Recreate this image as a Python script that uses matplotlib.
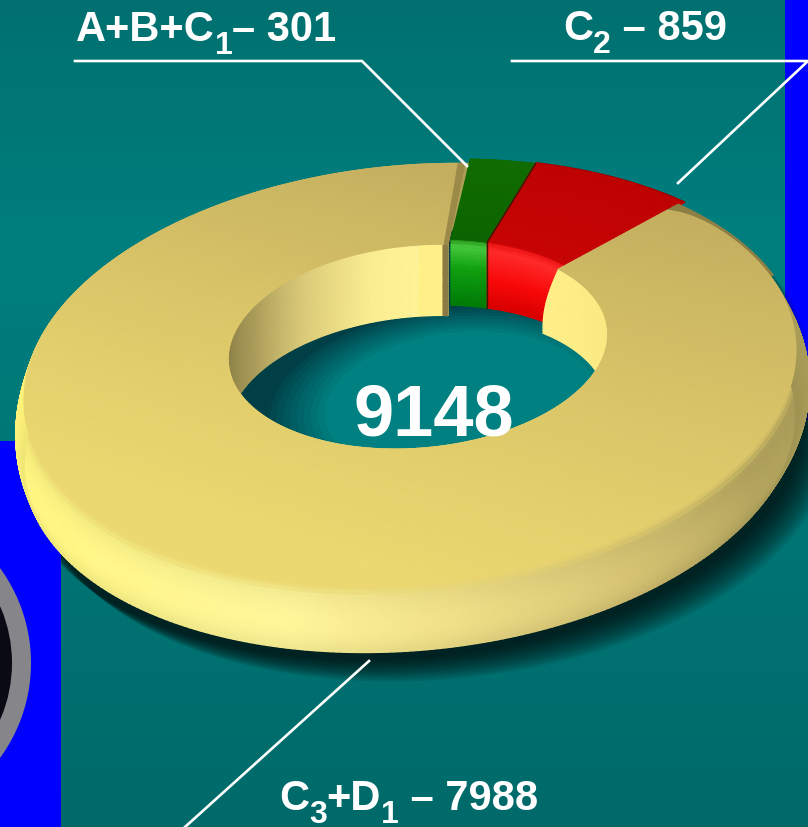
import numpy as np
import matplotlib
matplotlib.use("Agg")
import matplotlib.pyplot as plt
from matplotlib.collections import PolyCollection
from matplotlib.colors import to_rgb
from matplotlib.patches import Circle, Rectangle

plt.rcParams["font.family"] = ["Liberation Sans", "DejaVu Sans"]

# reserves by category
values = [301, 859, 7988]
labels = [
    [("A+B+C", 0), ("1", 1), ("– 301", 0)],
    [("C", 0), ("2", 1), (" – 859", 0)],
    [("C", 0), ("3", 1), ("+D", 0), ("1", 1), (" – 7988", 0)],
]
total_label = "9148"
label_x = [76, 563, 279]
label_y = [30, 29, 799]

# view of the ring
CX, CY, A, B = 410, 333, 378, 201.6
PERSP, SHEAR, DROP = 0.2, 0.065, 66
R_IN = 0.50
R_COL = 0.53
START = 11.0


def project(r, th, h=0.0):
    t = np.radians(th)
    u, v = r * np.sin(t), r * np.cos(t)
    w = 1 + PERSP * v
    x = CX + A * u / w + 16 * (1 - r)
    y = CY - B * v / w - SHEAR * (x - CX) + DROP * h + 8 * (1 - r)
    return x, y


def ramp(x, stops):
    xs = [s[0] for s in stops]
    rgb = np.array([to_rgb(s[1]) for s in stops])
    return np.stack([np.interp(x, xs, rgb[:, i]) for i in range(3)], axis=-1)


def mesh(ax, th, r, h, colour, dx=0.0, dy=0.0, z=3):
    x, y = project(r, th, h)
    x = x + dx
    y = y + dy
    quads = np.stack([
        np.stack([x[:-1, :-1], y[:-1, :-1]], -1),
        np.stack([x[1:, :-1], y[1:, :-1]], -1),
        np.stack([x[1:, 1:], y[1:, 1:]], -1),
        np.stack([x[:-1, 1:], y[:-1, 1:]], -1),
    ], axis=2).reshape(-1, 4, 2)
    mid = lambda g: (g[:-1, :-1] + g[1:, 1:]).ravel() / 2
    cols = colour(mid(th), mid(r), mid(h))
    ax.add_collection(PolyCollection(quads, facecolors=cols, edgecolors=cols,
                                     linewidths=1.0, zorder=z))


def top_colour(th, r, h):
    t = np.radians(th)
    v = r * np.cos(t) + 0.6 * r * np.sin(t)
    return ramp(v, [(-1, "#ECD870"), (0, "#D8C368"), (1, "#C4AF60")])


def outer_wall_colour(th, r, h):
    base = ramp(th % 360, [(50, "#B0A259"), (100, "#A89B57"), (130, "#B3A55E"),
                           (150, "#D2C070"), (175, "#F0E088"), (195, "#FFF69A"),
                           (230, "#FFF785"), (275, "#FFF278"), (300, "#E8D870")])
    base = base * (0.94 + 0.06 * np.sin(np.pi * np.clip(h, 0, 1))[..., None])
    # soft edge where the wall meets the top face
    mix = np.clip(1 - h / 0.14, 0, 1)[..., None]
    return mix * top_colour(th, np.ones_like(th), h) + (1 - mix) * base


def inner_wall_colour(th, r, h):
    return ramp(th % 360, [(40, "#FFF08A"), (110, "#F8E680"), (230, "#C8B868"),
                           (275, "#8F8349"), (295, "#A89A58"), (320, "#DBCB79"),
                           (345, "#FBEE92"), (372, "#FFF59B")])


def flat(c):
    return lambda th, r, h: np.tile(to_rgb(c), (th.size, 1))


def green_wall(th, r, h):
    return ramp(h, [(0, "#1F8A12"), (0.12, "#45C83C"), (0.45, "#10A010"), (1, "#007A06")])


def red_wall(th, r, h):
    return ramp(h, [(0, "#E81010"), (0.15, "#FF2A2A"), (0.6, "#F80808"), (1, "#D80000")])


def green_top(th, r, h):
    return ramp(r, [(0.52, "#0C6400"), (1.03, "#106C00")])


def red_top(th, r, h):
    return ramp(r, [(0.52, "#C80404"), (1.03, "#BE0202")])


total = sum(values)
angles = START + np.cumsum([0] + values) / total * 360
beige_from = angles[2] - 4.5
beige_to = angles[3] - 1
SLICE_DX = -1

fig = plt.figure(figsize=(8.08, 8.27), dpi=100)
ax = fig.add_axes([0, 0, 1, 1])
ax.set_xlim(0, 808)
ax.set_ylim(827, 0)
ax.axis("off")

# background
grad = ramp(np.linspace(0, 827, 300), [(0, "#007070"), (250, "#007F7F"),
                                       (500, "#007575"), (827, "#006A6A")])
ax.imshow(grad[:, None, :], extent=[0, 808, 827, 0], aspect="auto", zorder=0)
ax.set_xlim(0, 808)
ax.set_ylim(827, 0)
ax.add_patch(Rectangle((785, 0), 23, 420, color="#0000FF", lw=0, zorder=1))

# shadow around the ring
sh_th = np.linspace(0, 360, 240)
for k in range(1, 13):
    sx, sy = project(1.02, sh_th, 1.0)
    ax.fill(sx + k * 2.4, sy + k * 1.9, color="black", alpha=0.085, lw=0, zorder=1.2)
for k in range(1, 8):
    sx, sy = project(1.0, sh_th, 0.0)
    ax.fill(sx + k * 1.6, sy + k * 1.2, color="black", alpha=0.05, lw=0, zorder=1.2)

# left side of the slide
ax.add_patch(Rectangle((0, 441), 61, 386, color="#0000FF", lw=0, zorder=1.5))
ax.add_patch(Circle((-130, 663), 161, color="#85858A", lw=0, zorder=1.6))
ax.add_patch(Circle((-130, 663), 142, color="#0A0A14", lw=0, zorder=1.7))

# hole floor
fx, fy = project(R_IN, sh_th, 0.0)
ax.fill(fx, fy, color="#003F45", lw=0, zorder=2)
layer_r = np.linspace(0.50, 0.36, 9)
layer_c = ramp(np.linspace(0, 1, 9), [(0, "#00484E"), (0.5, "#006468"), (1, "#008080")])
for rr, cc in zip(layer_r, layer_c):
    lx, ly = project(rr, sh_th, 0.0)
    ax.fill(lx + 41, ly + 62, color=cc, lw=0, zorder=2.1)

# beige outer wall, fuller on the right
th_w = np.linspace(angles[2], angles[3], 400)
h_w = np.linspace(0, 1, 20)
TH, HH = np.meshgrid(th_w, h_w)
RR = 1 + (0.02 + 0.015 * np.clip(np.sin(np.radians(TH)), 0, 1)) * np.sin(np.pi * HH)
mesh(ax, TH, RR, HH, outer_wall_colour, z=2.5)

# coloured slices, pushed a little outwards
slices = [(angles[0], angles[1], green_wall, green_top),
          (angles[1], beige_from + 0.5, red_wall, red_top)]
for a, b, wall, top in slices:
    th_s = np.linspace(a, b, 50)
    TH, HH = np.meshgrid(th_s, np.linspace(0, 1, 24))
    mesh(ax, TH, np.full(TH.shape, R_COL), HH, wall, dx=SLICE_DX, z=3)
    TH, RR = np.meshgrid(th_s, np.linspace(R_COL, 1.03, 24))
    mesh(ax, TH, RR, np.zeros(TH.shape), top, dx=SLICE_DX, z=3.1)

# red rim at the far end
TH, RR = np.meshgrid(np.linspace(angles[1], beige_from + 0.5, 50), np.linspace(1.03, 1.036, 2))
mesh(ax, TH, RR, np.zeros(TH.shape), flat("#A00000"), dx=SLICE_DX, z=3.05)

# dark seams between the slices
for a, c in zip(angles[1:2], ["#3A1500"]):
    rs = np.linspace(R_COL, 1.03, 12)
    sx, sy = project(rs, np.full(12, a), 0.0)
    ax.plot(sx + SLICE_DX, sy, color=c, lw=1, zorder=3.2)
    hs = np.linspace(0, 1, 8)
    sx, sy = project(R_COL, np.full(8, a), hs)
    ax.plot(sx + SLICE_DX, sy, color=c, lw=1, zorder=3.2)

# beige inner wall, with a rounded start
h_i = np.linspace(0, 1.08, 24)
frac = np.linspace(0, 1, 300)
HH, FF = np.meshgrid(h_i, frac, indexing="ij")
st = beige_from - 7 * np.sin(np.clip(HH, 0, 1) * np.pi / 2)
TH = st + (beige_to - st) * FF
mesh(ax, TH, np.full(TH.shape, R_IN), HH, inner_wall_colour, z=3.3)

# brown cut where the beige slice ends
TH, HH = np.meshgrid(np.linspace(beige_to - 1.6, beige_to, 3), np.linspace(0, 1.08, 6))
mesh(ax, TH, np.full(TH.shape, R_IN), HH, flat("#8C7A45"), z=3.35)

# rim at the back
TH, RR = np.meshgrid(np.linspace(beige_from, 80, 120), np.linspace(0.96, 1.01, 3))
mesh(ax, TH, RR, np.zeros(TH.shape), flat("#8C7F45"), z=3.4)

# beige top, corner rounded off at the red slice
TH, SS = np.meshgrid(np.linspace(beige_from, beige_to, 500), np.linspace(0, 1, 30))
RR = R_IN + SS * (1 - R_IN - 0.04 * np.exp(-(TH - beige_from) / 4))
mesh(ax, TH, RR, np.zeros(TH.shape), top_colour, z=3.5)
TH, RR = np.meshgrid(np.linspace(beige_to - 1.2, beige_to, 3), np.linspace(R_IN, 1.0, 12))
mesh(ax, TH, RR, np.zeros(TH.shape), flat("#9C8A48"), z=3.55)

# leader lines
ax.plot([75, 362, 467], [61, 61, 166], color="white", lw=1.9, zorder=5, solid_joinstyle="miter")
ax.plot([512, 808, 678], [61, 61, 183], color="white", lw=1.9, zorder=5, solid_joinstyle="miter")
ax.plot([369, 185], [661, 827], color="white", lw=1.9, zorder=5)


def write(x, y, parts):
    r = fig.canvas.get_renderer()
    for s, sub in parts:
        t = ax.text(x, y + (16 if sub else 0), s, color="white", fontweight="bold",
                    fontsize=23 if sub else 30, ha="left", va="center", zorder=6)
        ext = t.get_window_extent(r)
        x += ext.width
        if s.startswith(" "):
            x += 8


for parts, x, y in zip(labels, label_x, label_y):
    write(x, y, parts)

ax.text(434, 417, total_label, color="white", fontweight="bold", fontsize=52,
        ha="center", va="center", zorder=6)

fig.savefig("out.png", dpi=100)
